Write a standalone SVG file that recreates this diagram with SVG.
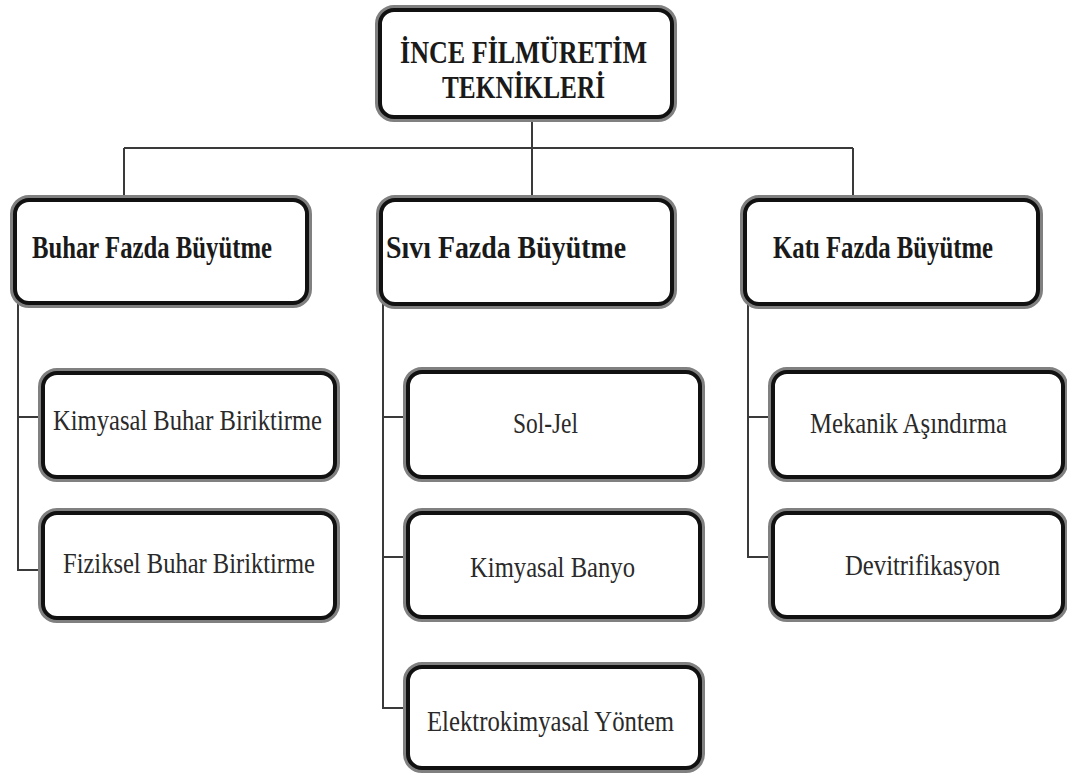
<svg xmlns="http://www.w3.org/2000/svg" width="1067" height="776" viewBox="0 0 1067 776">
  <style>
    .halo { fill: none; stroke: #808080; stroke-width: 10; }
    .box { fill: #ffffff; stroke: #111111; stroke-width: 4; }
    .link { fill: none; stroke: #3a3a3a; stroke-width: 2; }
    .head { font-family: "Liberation Serif", "Times New Roman", serif; font-weight: bold; font-size: 31px; fill: #1a1a1a; }
    .item { font-family: "Liberation Serif", "Times New Roman", serif; font-size: 30px; fill: #2a2a2a; }
  </style>
  <rect width="1067" height="776" fill="#ffffff"/>

  <!-- connectors -->
  <g id="connectors">
    <path class="link" d="M532 118 V148 M124 148 H853 M124 148 V200 M532 148 V200 M853 148 V200"/>
    <path class="link" d="M18 303 V570 H43 M18 417 H43"/>
    <path class="link" d="M383 304 V708 H408 M383 417 H408 M383 557 H408"/>
    <path class="link" d="M748 304 V557 H773 M748 417 H773"/>
  </g>

  <!-- root -->
  <g id="root">
    <rect class="halo" x="380" y="10" width="292" height="107" rx="14"/>
    <rect class="box" x="380" y="10" width="292" height="107" rx="14"/>
    <text class="head" x="400" y="63" textLength="247" lengthAdjust="spacingAndGlyphs">İNCE FİLMÜRETİM</text>
    <text class="head" x="442" y="98" textLength="163" lengthAdjust="spacingAndGlyphs">TEKNİKLERİ</text>
  </g>

  <!-- second level -->
  <g id="buhar">
    <rect class="halo" x="15" y="200" width="292" height="103" rx="14"/>
    <rect class="box" x="15" y="200" width="292" height="103" rx="14"/>
    <text class="head" x="32" y="258" textLength="240" lengthAdjust="spacingAndGlyphs">Buhar Fazda Büyütme</text>
  </g>
  <g id="sivi">
    <rect class="halo" x="381" y="200" width="291" height="104" rx="14"/>
    <rect class="box" x="381" y="200" width="291" height="104" rx="14"/>
    <text class="head" x="386" y="258" textLength="240" lengthAdjust="spacingAndGlyphs">Sıvı Fazda Büyütme</text>
  </g>
  <g id="kati">
    <rect class="halo" x="745" y="200" width="293" height="104" rx="14"/>
    <rect class="box" x="745" y="200" width="293" height="104" rx="14"/>
    <text class="head" x="773" y="258" textLength="220" lengthAdjust="spacingAndGlyphs">Katı Fazda Büyütme</text>
  </g>

  <!-- third level: vapour phase -->
  <g id="kimyasal-buhar">
    <rect class="halo" x="43" y="373" width="292" height="104" rx="14"/>
    <rect class="box" x="43" y="373" width="292" height="104" rx="14"/>
    <text class="item" x="53" y="430" textLength="269" lengthAdjust="spacingAndGlyphs">Kimyasal Buhar Biriktirme</text>
  </g>
  <g id="fiziksel-buhar">
    <rect class="halo" x="43" y="513" width="292" height="105" rx="14"/>
    <rect class="box" x="43" y="513" width="292" height="105" rx="14"/>
    <text class="item" x="63" y="573" textLength="252" lengthAdjust="spacingAndGlyphs">Fiziksel Buhar Biriktirme</text>
  </g>

  <!-- third level: liquid phase -->
  <g id="sol-jel">
    <rect class="halo" x="408" y="372" width="292" height="105" rx="14"/>
    <rect class="box" x="408" y="372" width="292" height="105" rx="14"/>
    <text class="item" x="513" y="433" textLength="65" lengthAdjust="spacingAndGlyphs">Sol-Jel</text>
  </g>
  <g id="kimyasal-banyo">
    <rect class="halo" x="408" y="513" width="292" height="104" rx="14"/>
    <rect class="box" x="408" y="513" width="292" height="104" rx="14"/>
    <text class="item" x="470" y="577" textLength="165" lengthAdjust="spacingAndGlyphs">Kimyasal Banyo</text>
  </g>
  <g id="elektrokimyasal">
    <rect class="halo" x="408" y="667" width="292" height="101" rx="14"/>
    <rect class="box" x="408" y="667" width="292" height="101" rx="14"/>
    <text class="item" x="427" y="731" textLength="247" lengthAdjust="spacingAndGlyphs">Elektrokimyasal Yöntem</text>
  </g>

  <!-- third level: solid phase -->
  <g id="mekanik">
    <rect class="halo" x="773" y="372" width="290" height="105" rx="14"/>
    <rect class="box" x="773" y="372" width="290" height="105" rx="14"/>
    <text class="item" x="810" y="433" textLength="197" lengthAdjust="spacingAndGlyphs">Mekanik Aşındırma</text>
  </g>
  <g id="devitrifikasyon">
    <rect class="halo" x="773" y="513" width="290" height="104" rx="14"/>
    <rect class="box" x="773" y="513" width="290" height="104" rx="14"/>
    <text class="item" x="845" y="575" textLength="155" lengthAdjust="spacingAndGlyphs">Devitrifikasyon</text>
  </g>
</svg>
